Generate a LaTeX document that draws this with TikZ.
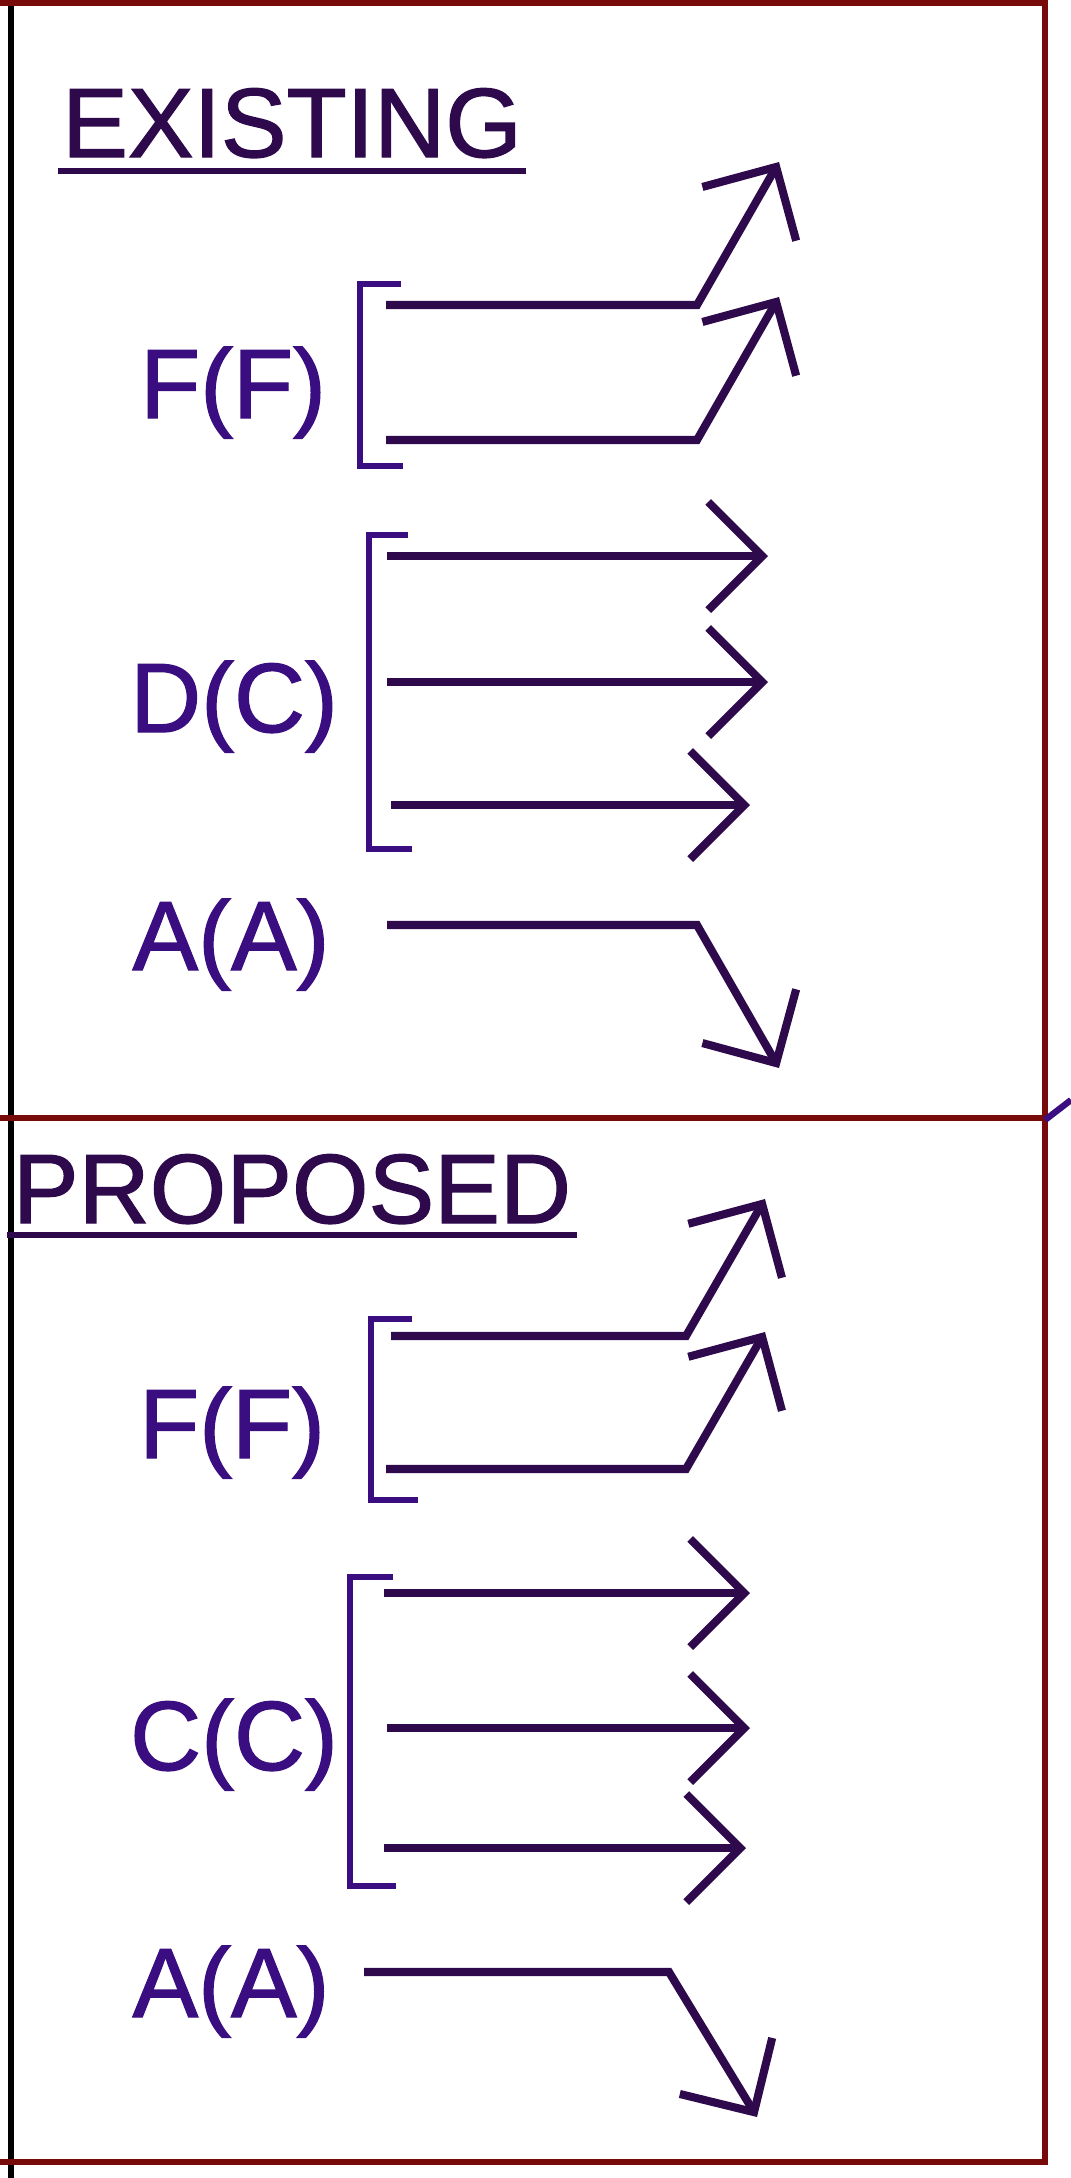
\documentclass[tikz,border=0pt]{standalone}
\usepackage{fontspec}
\setmainfont{Liberation Sans}
\newfontfamily\diagfont{Liberation Sans}[FakeBold=1.3]
\usetikzlibrary{arrows.meta}
\definecolor{framered}{RGB}{120,10,10}
\definecolor{inkblue}{RGB}{58,14,128}
\definecolor{shaftpurple}{RGB}{46,10,76}
\tikzstyle{heading} = [anchor=base, inner sep=0pt, text=shaftpurple, font=\diagfont\fontsize{28}{30}\selectfont]
\tikzstyle{lbl} = [anchor=base, inner sep=0pt, text=inkblue, font=\diagfont\fontsize{28}{30}\selectfont]
\tikzstyle{frame} = [line width=1.8pt, draw=framered]
\tikzstyle{bracket} = [line width=1.9pt, draw=inkblue]
\tikzstyle{uline} = [line width=1.8pt, draw=shaftpurple]
\tikzstyle{arrow} = [line width=2.3pt, draw=shaftpurple, -{Straight Barb[length=5.4mm, width=10.8mm]}]

\begin{document}
\begin{tikzpicture}[x=0.01cm, y=-0.01cm]
        \useasboundingbox (0,0) rectangle (1071,2178);

        % frame
        \draw[line width=1.5pt] (11,0) -- (11,2178);
        \draw[frame] (0,3) -- (1045,3) -- (1045,2162) -- (0,2162);
        \draw[frame] (0,1118) -- (1045,1118);
        \draw[line width=1.8pt, inkblue] (1045,1120) -- (1071,1100);

        % existing
        \node[heading] (existing) at (292,157) {EXISTING};
        \draw[uline] (58,171) -- (526,171);

        \node[lbl] (eff) at (233,418) {F(F)};
        \node[lbl] (edc) at (234,732) {D(C)};
        \node[lbl] (eaa) at (231,970) {A(A)};

        \draw[bracket] (401,284) -- (360,284) -- (360,466) -- (403,466);
        \draw[bracket] (408,535) -- (369,535) -- (369,849) -- (412,849);

        \coordinate (ef1) at (386,305);
        \coordinate (ef2) at (386,440);
        \coordinate (ed1) at (387,556);
        \coordinate (ed2) at (387,682);
        \coordinate (ed3) at (391,805);
        \coordinate (ea1) at (387,925);

        \draw[arrow] (ef1) -- ++(311,0) -- ++(82,-143);
        \draw[arrow] (ef2) -- ++(311,0) -- ++(82,-143);
        \draw[arrow] (ed1) -- ++(381,0);
        \draw[arrow] (ed2) -- ++(381,0);
        \draw[arrow] (ed3) -- ++(359,0);
        \draw[arrow] (ea1) -- ++(310,0) -- ++(82,143);

        % proposed
        \node[heading] (proposed) at (292,1223) {PROPOSED};
        \draw[uline] (7,1235) -- (577,1235);

        \node[lbl] (pff) at (232,1458) {F(F)};
        \node[lbl] (pcc) at (234,1770) {C(C)};
        \node[lbl] (paa) at (231,2017) {A(A)};

        \draw[bracket] (412,1319) -- (371,1319) -- (371,1500) -- (418,1500);
        \draw[bracket] (393,1577) -- (350,1577) -- (350,1886) -- (396,1886);

        \coordinate (pf1) at (391,1336);
        \coordinate (pf2) at (386,1469);
        \coordinate (pc1) at (384,1593);
        \coordinate (pc2) at (387,1728);
        \coordinate (pc3) at (384,1848);
        \coordinate (pa1) at (364,1972);

        \draw[arrow] (pf1) -- ++(295,0) -- ++(79,-137);
        \draw[arrow] (pf2) -- ++(300,0) -- ++(79,-137);
        \draw[arrow] (pc1) -- ++(366,0);
        \draw[arrow] (pc2) -- ++(363,0);
        \draw[arrow] (pc3) -- ++(362,0);
        \draw[arrow] (pa1) -- ++(305,0) -- ++(88,145);

\end{tikzpicture}
\end{document}
